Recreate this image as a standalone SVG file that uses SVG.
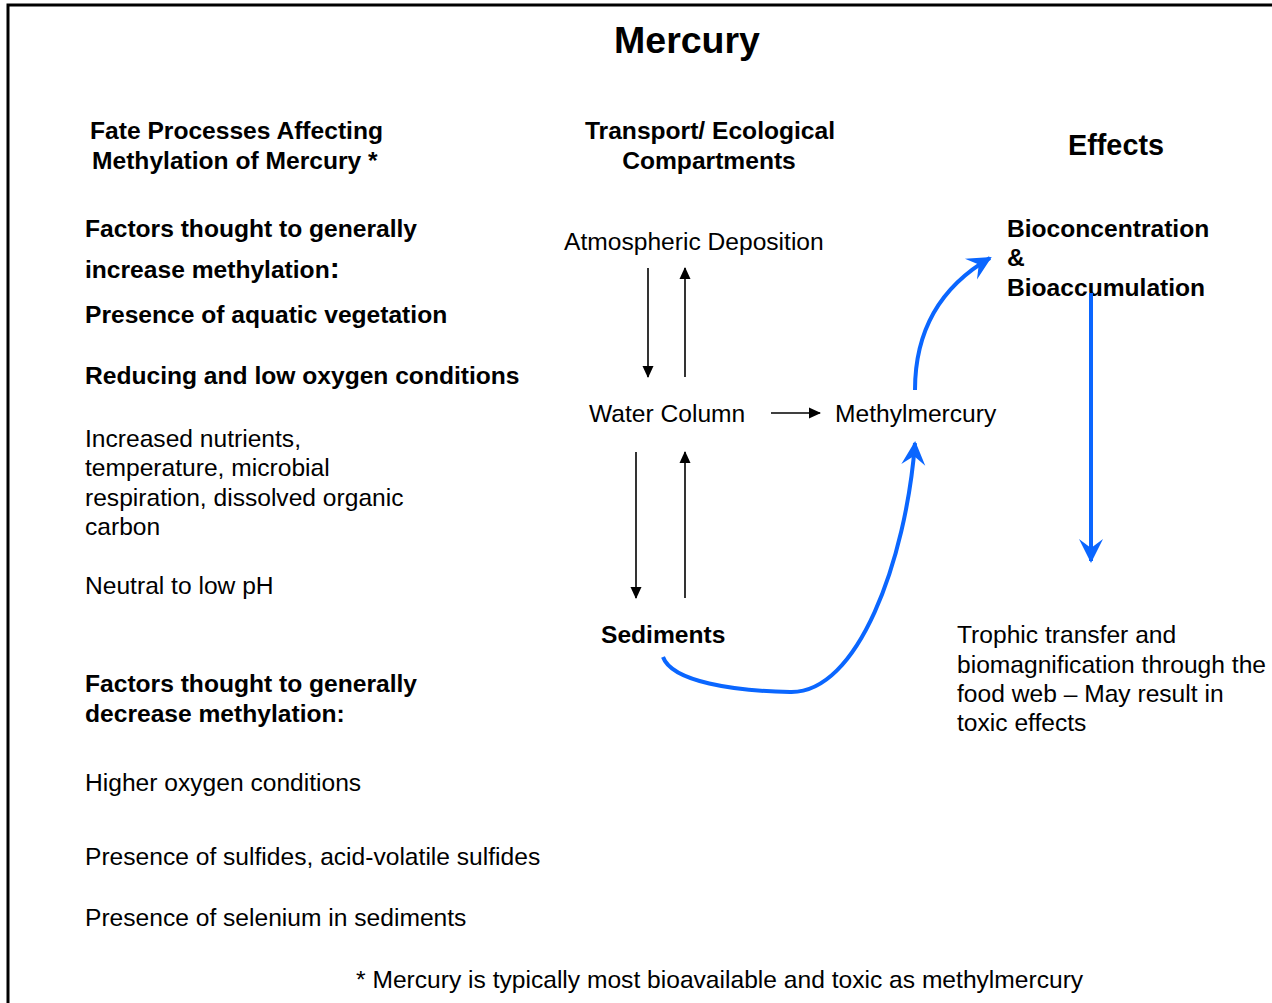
<svg xmlns="http://www.w3.org/2000/svg" width="1272" height="1003" viewBox="0 0 1272 1003">
<defs>
<style>
text{font-family:"Liberation Sans",Arial,sans-serif;font-size:24.6px;fill:#000}
.b{font-weight:bold}
.k{stroke:#000;stroke-width:1.6;fill:none}
.bl{stroke:#0a66ff;stroke-width:4;fill:none}
</style>
<marker id="ah" markerUnits="userSpaceOnUse" viewBox="0 -6 12 12" refX="11" refY="0" markerWidth="12" markerHeight="12" orient="auto"><path d="M0,-5.5 L12,0 L0,5.5 z" fill="#000"/></marker>
<marker id="bh" markerUnits="userSpaceOnUse" viewBox="0 -14 28 28" refX="22" refY="0" markerWidth="28" markerHeight="28" orient="auto"><path d="M0,-12 L24,0 L0,12 L9,0 z" fill="#0a66ff"/></marker>
</defs>
<rect x="0" y="0" width="1272" height="1003" fill="#fff"/>
<path d="M8,1003 V5 H1272" stroke="#000" stroke-width="3" fill="none"/>
<text class="b" x="687" y="53" text-anchor="middle" style="font-size:37.5px">Mercury</text>
<g id="left-header">
<text class="b" x="90" y="139">Fate Processes Affecting</text>
<text class="b" x="92" y="169">Methylation of Mercury *</text>
</g>
<g id="mid-header">
<text class="b" x="710" y="139" text-anchor="middle">Transport/ Ecological</text>
<text class="b" x="709" y="169" text-anchor="middle">Compartments</text>
</g>
<g id="right-header"><text class="b" x="1116" y="155" text-anchor="middle" style="font-size:28.8px">Effects</text></g>
<g id="increase-factors">
<text class="b" x="85" y="237">Factors thought to generally</text>
<text class="b" x="85" y="278">increase methylation<tspan style="font-size:30px">:</tspan></text>
<text class="b" x="85" y="323">Presence of aquatic vegetation</text>
<text class="b" x="85" y="384">Reducing and low oxygen conditions</text>
<text x="85" y="447">Increased nutrients,</text>
<text x="85" y="476">temperature, microbial</text>
<text x="85" y="506">respiration, dissolved organic</text>
<text x="85" y="535">carbon</text>
<text x="85" y="594">Neutral to low pH</text>
</g>
<g id="decrease-factors">
<text class="b" x="85" y="692">Factors thought to generally</text>
<text class="b" x="85" y="722">decrease methylation:</text>
<text x="85" y="791">Higher oxygen conditions</text>
<text x="85" y="865">Presence of sulfides, acid-volatile sulfides</text>
<text x="85" y="926">Presence of selenium in sediments</text>
</g>
<g id="atmospheric-deposition"><text x="564" y="250">Atmospheric Deposition</text></g>
<g id="water-column"><text x="589" y="422">Water Column</text></g>
<g id="methylmercury"><text x="835" y="422">Methylmercury</text></g>
<g id="sediments"><text class="b" x="601" y="643">Sediments</text></g>
<g id="bioconcentration">
<text class="b" x="1007" y="237">Bioconcentration</text>
<text class="b" x="1007" y="266">&amp;</text>
<text class="b" x="1007" y="296">Bioaccumulation</text>
</g>
<g id="trophic-transfer">
<text x="957" y="643">Trophic transfer and</text>
<text x="957" y="673">biomagnification through the</text>
<text x="957" y="702">food web – May result in</text>
<text x="957" y="731">toxic effects</text>
</g>
<g id="footnote"><text x="356" y="988">* Mercury is typically most bioavailable and toxic as methylmercury</text></g>
<g id="connectors">
<line class="k" x1="648" y1="268" x2="648" y2="377" marker-end="url(#ah)"/>
<line class="k" x1="685" y1="377" x2="685" y2="268" marker-end="url(#ah)"/>
<line class="k" x1="771" y1="413" x2="820" y2="413" marker-end="url(#ah)"/>
<line class="k" x1="636" y1="452" x2="636" y2="598" marker-end="url(#ah)"/>
<line class="k" x1="685" y1="598" x2="685" y2="452" marker-end="url(#ah)"/>
<path class="bl" d="M663,657 C672,682 735,691 790,692 C858,694 906,560 915,443" marker-end="url(#bh)"/>
<path class="bl" d="M915,390 C915,330 940,287 990,258" marker-end="url(#bh)"/>
<line class="bl" x1="1091" y1="293" x2="1091" y2="561" marker-end="url(#bh)"/>
</g>
</svg>
